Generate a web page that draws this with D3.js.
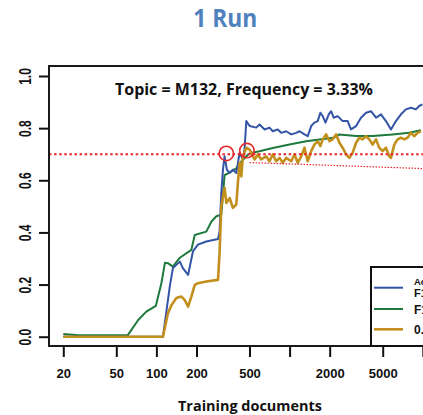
<!DOCTYPE html>
<html><head><meta charset="utf-8">
<script src="https://cdn.jsdelivr.net/npm/d3@7"></script>
<style>body{margin:0;background:#fff}svg{display:block}</style>
</head><body>
<svg id="c" width="423" height="415"></svg>
<script>
const titleText = "1 Run";
const subtitleText = "Topic = M132, Frequency = 3.33%";
const xLabelText = "Training documents";
const xTicks = [20,50,100,200,500,1000,2000,5000,10000];
const xTickLabels = ["20","50","100","200","500","","2000","5000",""];
const yTicks = [0,0.2,0.4,0.6,0.8,1.0];
const yTickLabels = ["0.0","0.2","0.4","0.6","0.8","1.0"];
const seriesNames = ["Active learning", "F1 (sampled)", "0.70 target"];
const seriesLine2 = ["F1 score", "", ""];
const seriesColors = ["#3354a6", "#1e7a3c", "#c28f1c"];

const blueDocs = [20,112,126,133,150,158,173,188,205,237,290,298,307,316,325,338,355,375,398,421,446,459,473,501,562,595,649,706,748,815,865,942,1028,1120,1186,1294,1368,1452,1535,1626,1702,1774,1858,1968,2048,2143,2296,2502,2728,2891,3155,3436,3750,4084,4455,4853,5287,5768,6285,6855,7468,8149,8873,9397,9946];
const blueVals = [0,0,0.192,0.263,0.288,0.263,0.237,0.327,0.353,0.365,0.375,0.404,0.552,0.641,0.692,0.641,0.628,0.641,0.628,0.705,0.68,0.72,0.827,0.808,0.802,0.814,0.795,0.802,0.788,0.795,0.782,0.788,0.776,0.782,0.788,0.776,0.769,0.808,0.821,0.827,0.859,0.846,0.821,0.853,0.865,0.84,0.846,0.827,0.827,0.795,0.808,0.84,0.859,0.865,0.84,0.853,0.827,0.795,0.827,0.853,0.872,0.878,0.872,0.885,0.891];

const greenDocs = [20,26,61,73,84,99,109,116,122,133,150,183,194,237,259,282,307,325,344,398,434,486,515,594,748,998,1331,1675,2144,2365,3155,4200,5930,7910,9680];
const greenVals = [0.01,0.006,0.006,0.064,0.096,0.118,0.205,0.284,0.282,0.269,0.303,0.333,0.39,0.403,0.442,0.462,0.468,0.62,0.626,0.646,0.672,0.698,0.705,0.711,0.724,0.737,0.75,0.756,0.763,0.776,0.77,0.77,0.776,0.782,0.792];

const goldDocs = [20,112,122,130,141,154,163,173,183,194,205,237,290,298,307,325,335,355,375,398,409,421,434,446,473,501,546,578,612,668,706,748,793,840,889,942,1028,1089,1151,1222,1294,1368,1452,1535,1626,1702,1774,1879,1990,2105,2234,2366,2502,2654,2812,2972,3155,3337,3532,3750,3966,4198,4455,4711,4990,5287,5598,5768,6109,6462,6855,7260,7678,8149,8617,9121,9675];
const goldVals = [0,0,0.09,0.122,0.148,0.154,0.141,0.115,0.154,0.199,0.205,0.212,0.218,0.321,0.5,0.571,0.513,0.532,0.494,0.507,0.59,0.667,0.615,0.692,0.725,0.718,0.68,0.699,0.68,0.692,0.673,0.699,0.673,0.686,0.667,0.686,0.673,0.699,0.667,0.692,0.725,0.673,0.712,0.737,0.75,0.731,0.757,0.776,0.75,0.757,0.776,0.744,0.725,0.699,0.686,0.705,0.744,0.763,0.757,0.769,0.757,0.737,0.757,0.725,0.712,0.725,0.692,0.686,0.737,0.757,0.763,0.757,0.763,0.782,0.769,0.782,0.788];

const thresholdValue = 0.70;
const trendDocs = [501, 9946];
const trendVals = [0.668, 0.645];
const circleDocs = [335, 478];
const circleVals = [0.703, 0.714];

const svg = d3.select("#c");
const x = d3.scaleLog().domain([20, 10000]).range([63.3, 422.8]);
const y = d3.scaleLinear().domain([0, 1]).range([336.7, 76]);
const box = {l: 49, t: 66, r: 470, b: 346};

svg.append("text").attr("x", 225.3).attr("y", 27).attr("text-anchor", "middle")
  .attr("font-family", "Open Sans").attr("font-weight", "bold").attr("font-size", 25)
  .attr("fill", "#4f81bd").attr("textLength", 64).attr("lengthAdjust", "spacingAndGlyphs")
  .text(titleText);

const defs = svg.append("defs");
defs.append("clipPath").attr("id", "clip").append("rect")
  .attr("x", box.l).attr("y", box.t).attr("width", box.r - box.l).attr("height", box.b - box.t);

const g = svg.append("g").attr("clip-path", "url(#clip)");
const line = d3.line().x(d => x(d[0])).y(d => y(d[1]));
const series = [
  {docs: greenDocs, vals: greenVals, color: seriesColors[1], w: 2},
  {docs: blueDocs, vals: blueVals, color: seriesColors[0], w: 2},
  {docs: goldDocs, vals: goldVals, color: seriesColors[2], w: 2.6}
];
series.forEach(s => {
  g.append("path").datum(s.docs.map((d, i) => [d, s.vals[i]]))
    .attr("d", line).attr("fill", "none").attr("stroke", s.color)
    .attr("stroke-width", s.w).attr("stroke-linejoin", "round");
});

g.append("line").attr("x1", box.l).attr("x2", box.r)
  .attr("y1", y(thresholdValue)).attr("y2", y(thresholdValue))
  .attr("stroke", "#e8262a").attr("stroke-width", 2).attr("stroke-dasharray", "2.5,2.6");
g.append("path").datum(trendDocs.map((d, i) => [d, trendVals[i]]))
  .attr("d", line).attr("fill", "none").attr("stroke", "#e8262a")
  .attr("stroke-width", 1.2).attr("stroke-dasharray", "1.5,1.5");
circleDocs.forEach((d, i) => {
  g.append("circle").attr("cx", x(d)).attr("cy", y(circleVals[i])).attr("r", 7.2)
    .attr("fill", "none").attr("stroke", "#e8262a").attr("stroke-width", 1.6);
});

svg.append("rect").attr("x", box.l).attr("y", box.t).attr("width", box.r - box.l)
  .attr("height", box.b - box.t).attr("fill", "none").attr("stroke", "#1a1a1a").attr("stroke-width", 2);

svg.append("text").attr("x", 115).attr("y", 95)
  .attr("font-family", "Open Sans").attr("font-weight", "bold").attr("font-size", 16)
  .attr("fill", "#111").attr("textLength", 258).attr("lengthAdjust", "spacingAndGlyphs")
  .text(subtitleText);

const xAxis = d3.axisBottom(x).tickValues(xTicks).tickFormat((d, i) => xTickLabels[i])
  .tickSize(10).tickPadding(12);
const gx = svg.append("g").attr("transform", "translate(0,347)").call(xAxis);
gx.select(".domain").remove();
gx.selectAll(".tick line").attr("stroke", "#111").attr("stroke-width", 2);
gx.selectAll(".tick text").attr("font-family", "Liberation Sans").attr("font-weight", "bold")
  .attr("font-size", 13).attr("fill", "#111");

const yAxis = d3.axisLeft(y).tickValues(yTicks).tickFormat((d, i) => yTickLabels[i]).tickSize(10);
const gy = svg.append("g").attr("transform", "translate(49,0)").call(yAxis);
gy.select(".domain").remove();
gy.selectAll(".tick line").attr("stroke", "#111").attr("stroke-width", 2);
gy.selectAll(".tick text").attr("x", null).attr("dy", "0.36em").attr("text-anchor", "middle")
  .attr("font-family", "Liberation Sans").attr("font-weight", "bold").attr("font-size", 12).attr("fill", "#111")
  .attr("transform", "translate(-23.3,0) scale(1.3,1) rotate(-90)");

svg.append("text").attr("x", 250).attr("y", 411).attr("text-anchor", "middle")
  .attr("font-family", "Open Sans").attr("font-weight", "bold").attr("font-size", 14)
  .attr("fill", "#111").attr("textLength", 144).attr("lengthAdjust", "spacingAndGlyphs")
  .text(xLabelText);

const lg = svg.append("g");
lg.append("rect").attr("x", 371).attr("y", 267).attr("width", 100).attr("height", 79)
  .attr("fill", "#fff").attr("stroke", "#111").attr("stroke-width", 2);
const legendY = [287.7, 309, 329.3];
[0, 1, 2].forEach((k, i) => {
  lg.append("line").attr("x1", 374).attr("x2", 403).attr("y1", legendY[i]).attr("y2", legendY[i])
    .attr("stroke", seriesColors[k]).attr("stroke-width", k === 2 ? 2.6 : 2);
  if (seriesLine2[k]) {
    lg.append("text").attr("x", 414).attr("y", legendY[i] - 2.5).attr("font-family", "Liberation Sans")
      .attr("font-weight", "bold").attr("font-size", 9.5).attr("fill", "#111").text(seriesNames[k]);
    lg.append("text").attr("x", 414).attr("y", legendY[i] + 9).attr("font-family", "Liberation Sans")
      .attr("font-weight", "bold").attr("font-size", 11).attr("fill", "#111").text(seriesLine2[k]);
  } else {
    lg.append("text").attr("x", 414).attr("y", legendY[i] + 4.5).attr("font-family", "Liberation Sans")
      .attr("font-weight", "bold").attr("font-size", 12).attr("fill", "#111").text(seriesNames[k]);
  }
});
</script>
</body></html>
